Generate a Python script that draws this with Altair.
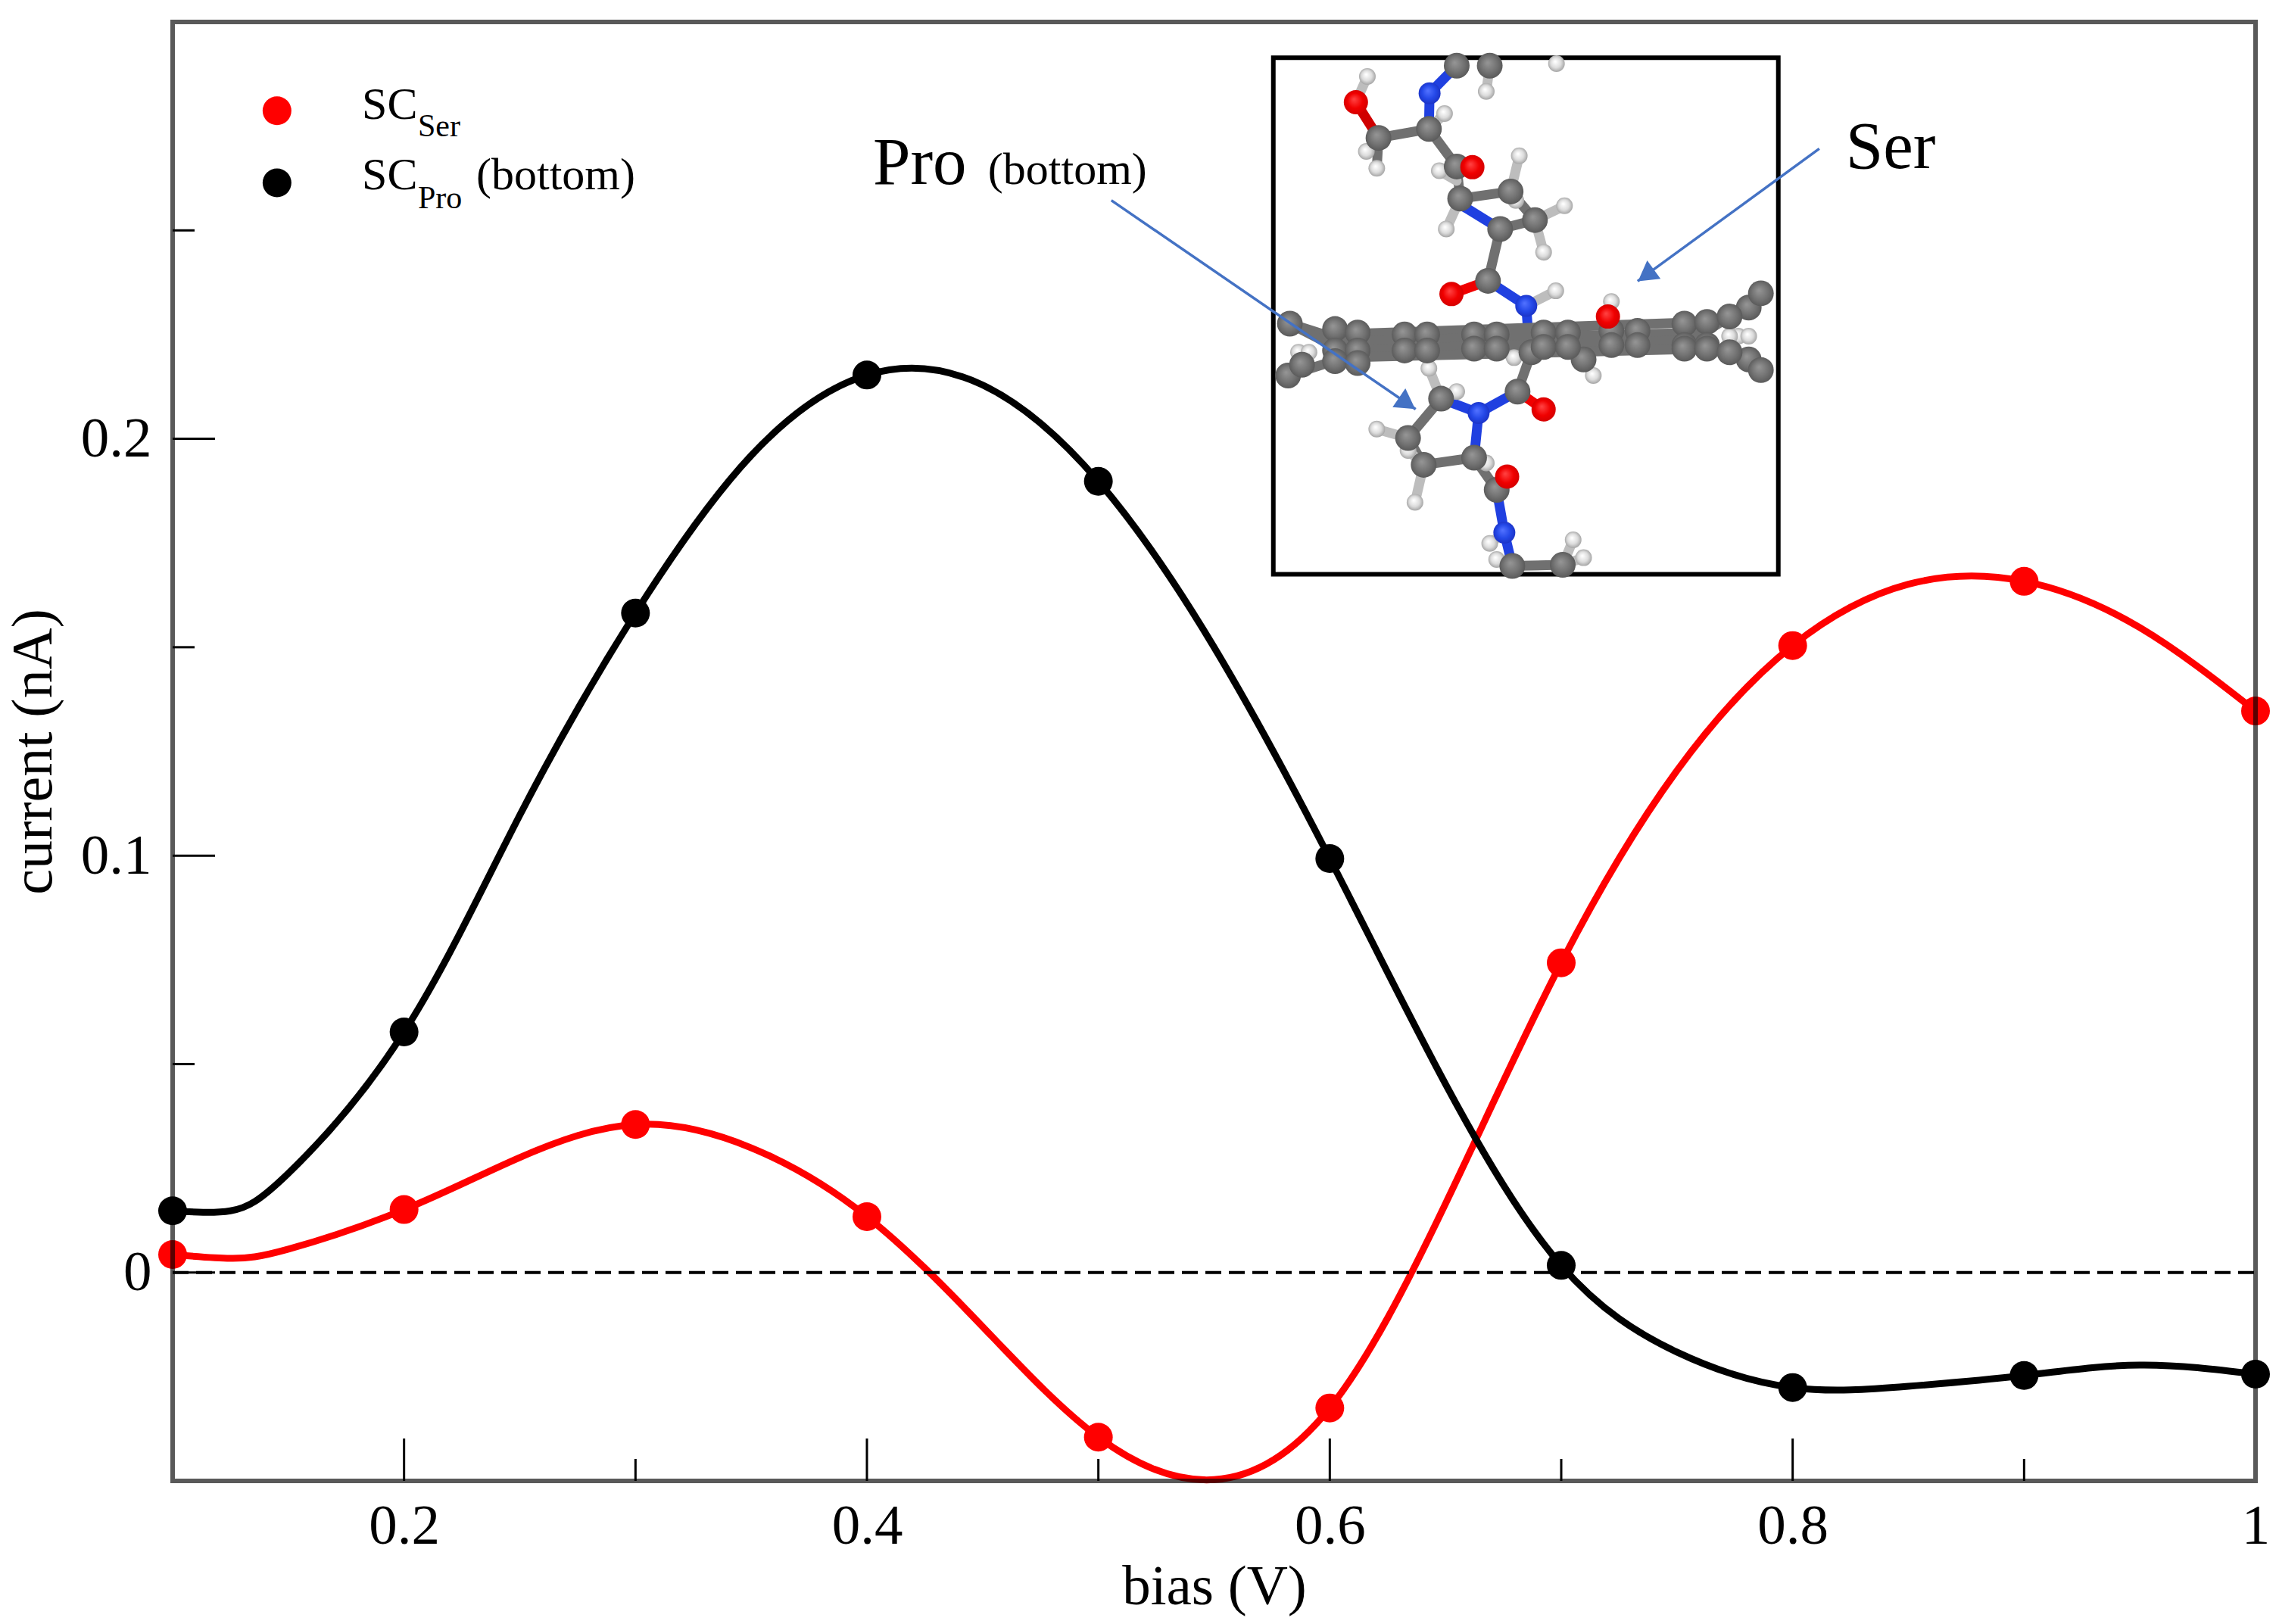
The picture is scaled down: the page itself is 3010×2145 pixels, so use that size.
import altair as alt
import pandas as pd

# ---------- main series ----------
bias = [0.1, 0.2, 0.3, 0.4, 0.5, 0.6, 0.7, 0.8, 0.9, 1.0]
sc_ser = [0.0043, 0.0151, 0.0355, 0.0134, -0.0395, -0.0325, 0.0743, 0.1504, 0.1658, 0.1347]
sc_pro = [0.0148, 0.0577, 0.1582, 0.2153, 0.1898, 0.0993, 0.0017, -0.0276, -0.0247, -0.0244]

# fitted curve
curve_x = [0.1, 0.125, 0.15, 0.2, 0.25, 0.3, 0.35, 0.4, 0.45, 0.5, 0.55, 0.6, 0.65, 0.7, 0.75, 0.8, 0.85, 0.9, 0.95, 1.0]
curve_ser = [0.0043, 0.0034, 0.0056, 0.0151, 0.0276, 0.0355, 0.0299, 0.0134, -0.0130, -0.0395, -0.0497, -0.0325,
             0.0165, 0.0743, 0.1204, 0.1504, 0.1651, 0.1658, 0.1547, 0.1347]
curve_pro = [0.0148, 0.0148, 0.0238, 0.0577, 0.1097, 0.1582, 0.1960, 0.2153, 0.2129, 0.1898, 0.1500, 0.0993,
             0.0452, 0.0017, -0.0191, -0.0276, -0.0273, -0.0247, -0.0222, -0.0244]

x_major = [0.2, 0.4, 0.6, 0.8]
x_minor = [0.3, 0.5, 0.7, 0.9]
y_major = [0.0, 0.1, 0.2]
y_minor = [0.05, 0.15, 0.25]
x_labels = [0.2, 0.4, 0.6, 0.8, 1.0]
y_labels = [0.0, 0.1, 0.2]

# ---------- inset picture, in inset units ----------
h_x = [318, 540, 315, 345, 525, 755, 745, 885, 825, 545, 860, 660, 862, 495, 345, 435, 455, 660, 670, 690, 910, 940, 575, 968, 1020,
       740, 120, 150, 1385, 1415, 1360]
h_y = [108, 212, 318, 365, 372, 330, 455, 470, 600, 535, 708, 150, 72, 925, 1095, 1155, 1300, 1190, 1415, 1460, 1405, 1455, 990, 945, 738,
       895, 880, 880, 835, 835, 835]
c_x = [350, 495, 575, 585, 730, 800, 700, 665, 790, 750, 530, 435, 480, 625, 690, 735, 880, 940, 575, 670,
       225, 290, 425, 490, 625, 690, 825, 895, 1020, 1095, 1230, 1295,
       225, 290, 425, 490, 625, 690, 825, 895, 1020, 1095, 1230, 1295,
       225, 290, 1230, 1295,
       95, 90, 130, 1415, 1450, 1415, 1450, 1360, 1360]
c_y = [280, 255, 360, 450, 430, 510, 535, 680, 880, 990, 1010, 1120, 1195, 1175, 1265, 1478, 1475, 900, 78, 78,
       815, 825, 830, 830, 830, 830, 825, 825, 820, 820, 800, 795,
       875, 875, 875, 875, 870, 870, 865, 865, 860, 860, 860, 860,
       905, 910, 870, 870,
       800, 945, 915, 755, 715, 900, 930, 780, 880]
n_x = [497, 775, 638, 712]
n_y = [155, 750, 1050, 1385]
o_x = [285, 620, 560, 825, 720, 1010]
o_y = [180, 362, 717, 1040, 1228, 780]

bond_x1 = [285, 350, 495, 497, 495, 575, 575, 585, 730, 800, 700, 600, 700, 665, 665, 775, 790, 750, 750, 638, 530, 435, 480, 625, 625, 690, 690, 712, 735, 1020,
           225, 225, 225, 225, 225, 225, 285, 1295, 1295, 1295, 1415, 1295, 1415, 940, 350, 350,
           318, 540, 525, 755, 745, 885, 825, 545, 860, 660, 495, 345, 435, 455, 660, 670, 690, 910, 940, 575, 1020]
bond_y1 = [180, 280, 255, 155, 255, 360, 360, 450, 430, 510, 535, 475, 535, 680, 680, 750, 880, 990, 990, 1050, 1010, 1120, 1195, 1175, 1175, 1265, 1265, 1385, 1478, 850,
           830, 850, 875, 895, 840, 865, 885, 805, 820, 860, 755, 860, 900, 900, 280, 280,
           108, 212, 372, 330, 455, 470, 600, 535, 708, 150, 925, 1095, 1155, 1300, 1190, 1415, 1460, 1405, 1455, 990, 738]
bond_x2 = [350, 495, 497, 575, 575, 620, 585, 730, 800, 700, 600, 585, 665, 560, 775, 780, 750, 825, 638, 530, 435, 480, 625, 638, 690, 720, 712, 735, 880, 1010,
           1295, 1295, 1295, 1295, 95, 95, 90, 1415, 1360, 1415, 1450, 1415, 1450, 968, 315, 345,
           285, 495, 575, 730, 730, 800, 800, 585, 775, 670, 530, 435, 480, 480, 625, 712, 735, 880, 880, 530, 1010]
bond_y2 = [280, 255, 155, 78, 360, 362, 450, 430, 510, 535, 475, 450, 680, 717, 750, 820, 990, 1040, 1050, 1010, 1120, 1195, 1175, 1050, 1265, 1228, 1385, 1478, 1475, 780,
           795, 825, 845, 870, 800, 800, 945, 755, 780, 900, 715, 900, 930, 945, 318, 365,
           180, 255, 400, 430, 430, 510, 510, 450, 750, 78, 1010, 1120, 1195, 1195, 1175, 1385, 1478, 1475, 1475, 1010, 780]
bond_c = ["#d00000", "#707070", "#2040e0", "#2040e0", "#707070", "#f00000", "#707070", "#707070", "#707070", "#707070", "#2040e0", "#2040e0", "#707070", "#f00000", "#2040e0", "#2040e0", "#707070", "#f00000", "#2040e0", "#2040e0", "#707070", "#707070", "#707070", "#2040e0", "#707070", "#f00000", "#2040e0", "#2040e0", "#707070", "#f00000"] \
    + ["#707070"] * 16 + ["#bdbdbd"] * 21

# ---------- annotations, in axis units ----------
frame = [{"a": 0.1, "a2": 1.0, "b": -0.05, "b2": 0.30}]
inset_box = [{"a": 0.5756, "a2": 0.7938, "b": 0.1675, "b2": 0.2914}]
legend_pts = [{"a": 0.1451, "b": 0.2787, "c": "#ff0000"}, {"a": 0.1451, "b": 0.2614, "c": "#000000"}]
txt60 = [{"a": 0.1818, "b": 0.2768, "t": "SC"}, {"a": 0.1818, "b": 0.2598, "t": "SC"},
         {"a": 0.2312, "b": 0.2598, "t": "(bottom)"}, {"a": 0.4523, "b": 0.2612, "t": "(bottom)"}]
txt42 = [{"a": 0.2060, "b": 0.2725, "t": "Ser"}, {"a": 0.2060, "b": 0.2554, "t": "Pro"}]
txt90 = [{"a": 0.4026, "b": 0.2612, "t": "Pro"}, {"a": 0.8229, "b": 0.2650, "t": "Ser"}]
arrows = [{"a": 0.5056, "b": 0.2572, "a2": 0.6371, "b2": 0.2071},
          {"a": 0.8115, "b": 0.2696, "a2": 0.7330, "b2": 0.2378}]
heads = [{"a": 0.6334, "b": 0.2085, "r": 124.5}, {"a": 0.7366, "b": 0.2392, "r": 233.9}]

W, H = 2751, 1927
FONT = "Liberation Serif"
xs = alt.Scale(domain=[0.1, 1.0], nice=False, zero=False)
ys = alt.Scale(domain=[-0.05, 0.30], nice=False, zero=False)
xi = alt.Scale(domain=[-3119, 2873], nice=False, zero=False)
yi = alt.Scale(domain=[4039, -44.5], nice=False, zero=False)


def X(f="a", axis=None):
    return alt.X(f"{f}:Q", scale=xs, axis=axis)


def Y(f="b", axis=None):
    return alt.Y(f"{f}:Q", scale=ys, axis=axis)


def X2(f="a2"):
    return alt.X2(f"{f}:Q")


def Y2(f="b2"):
    return alt.Y2(f"{f}:Q")


def XI(f="x"):
    return alt.X(f"{f}:Q", scale=xi, axis=None)


def YI(f="y"):
    return alt.Y(f"{f}:Q", scale=yi, axis=None)


series = pd.DataFrame({"a": bias, "ser": sc_ser, "pro": sc_pro})
curves = pd.DataFrame({"a": curve_x, "ser": curve_ser, "pro": curve_pro})

x_axis = alt.Axis(values=x_labels, format=".1~f", grid=False, domain=False, ticks=False, tickSize=0,
                  labelFont=FONT, labelFontSize=75, labelColor="black", labelPadding=23, labelFlush=False,
                  labelOverlap=False, title="bias (V)", titleFont=FONT, titleFontSize=75, titleFontWeight="normal",
                  titleColor="black", titleX=1375.5, titleY=162, titleBaseline="alphabetic", titleAnchor="middle")
y_axis = alt.Axis(values=y_labels, format=".1~f", grid=False, domain=False, ticks=False, tickSize=0,
                  labelFont=FONT, labelFontSize=75, labelColor="black", labelPadding=28, labelFlush=False,
                  labelOverlap=False, title="current (nA)", titleFont=FONT, titleFontSize=76, titleFontWeight="normal",
                  titleColor="black", titleX=-161, titleY=963.5, titleBaseline="alphabetic", titleAnchor="middle")

axes = alt.Chart(series).mark_point(opacity=0).encode(x=X("a", x_axis), y=Y("ser", y_axis))


def vtick(vals, length):
    return alt.Chart(pd.DataFrame({"a": vals})).mark_rule(color="black", strokeWidth=3).encode(
        x=X(), y=alt.value(H), y2=alt.value(H - length))


def htick(vals, length):
    return alt.Chart(pd.DataFrame({"b": vals})).mark_rule(color="black", strokeWidth=3).encode(
        y=Y(), x=alt.value(0), x2=alt.value(length))


ticks = alt.layer(vtick(x_major, 56), vtick(x_minor, 29), htick(y_major, 56), htick(y_minor, 29))

line_ser = alt.Chart(curves).mark_line(color="#ff0000", strokeWidth=9, interpolate="natural").encode(x=X(), y=Y("ser"))
line_pro = alt.Chart(curves).mark_line(color="#000000", strokeWidth=9, interpolate="natural").encode(x=X(), y=Y("pro"))
zero = alt.Chart(pd.DataFrame({"a": [0.1], "a2": [1.0], "b": [0.0]})).mark_rule(
    color="black", strokeWidth=4, strokeDash=[21, 10]).encode(x=X(), x2=X2(), y=Y())
dots_ser = alt.Chart(series).mark_circle(color="#ff0000", opacity=1, size=1444).encode(x=X(), y=Y("ser"))
dots_pro = alt.Chart(series).mark_circle(color="#000000", opacity=1, size=1444).encode(x=X(), y=Y("pro"))

box = alt.Chart(pd.DataFrame(inset_box)).mark_rect(fill="white", stroke="black", strokeWidth=6).encode(
    x=X(), x2=X2(), y=Y(), y2=Y2())

under = alt.layer(ticks, line_ser, zero, line_pro, dots_ser, dots_pro, box)


# ---------- molecule ----------
def atoms(xv, yv, d, edge, mid, light):
    grad = alt.RadialGradient(gradient="radial", x1=0.42, y1=0.38, r1=0.02, x2=0.5, y2=0.5, r2=0.55,
                              stops=[alt.GradientStop(color=light, offset=0),
                                     alt.GradientStop(color=mid, offset=0.55),
                                     alt.GradientStop(color=edge, offset=1)])
    return alt.Chart(pd.DataFrame({"x": xv, "y": yv})).mark_point(
        filled=True, shape="circle", size=d * d, fill=grad, opacity=1, strokeWidth=0).encode(x=XI(), y=YI())


bonds = alt.Chart(pd.DataFrame({"x": bond_x1, "y": bond_y1, "x2": bond_x2, "y2": bond_y2, "c": bond_c})).mark_rule(
    strokeWidth=13, strokeCap="round").encode(
    x=XI(), y=YI(), x2=alt.X2("x2:Q"), y2=alt.Y2("y2:Q"), color=alt.Color("c:N", scale=None))
molecule = alt.layer(
    bonds,
    atoms(h_x, h_y, 22, "#9a9a9a", "#dcdcdc", "#ffffff"),
    atoms(c_x, c_y, 34, "#555555", "#737373", "#949494"),
    atoms(n_x, n_y, 29, "#1a30c0", "#2448e8", "#5070ff"),
    atoms(o_x, o_y, 32, "#d00000", "#f00000", "#ff4040"),
)

# ---------- overlays ----------
arrow_lines = alt.Chart(pd.DataFrame(arrows)).mark_rule(color="#4472C4", strokeWidth=3.5).encode(
    x=X(), y=Y(), x2=X2(), y2=Y2())
arrow_heads = alt.Chart(pd.DataFrame(heads)).mark_point(
    shape="triangle-up", filled=True, color="#4472C4", opacity=1, size=900).encode(
    x=X(), y=Y(), angle=alt.Angle("r:Q", scale=None))
leg_dots = alt.Chart(pd.DataFrame(legend_pts)).mark_circle(opacity=1, size=1444).encode(
    x=X(), y=Y(), color=alt.Color("c:N", scale=None))


def texts(rows, size):
    return alt.Chart(pd.DataFrame(rows)).mark_text(
        font=FONT, fontSize=size, align="left", baseline="alphabetic", color="black").encode(
        x=X(), y=Y(), text="t:N")


frame_mark = alt.Chart(pd.DataFrame(frame)).mark_rect(
    fillOpacity=0, stroke="black", strokeOpacity=0.65, strokeWidth=6).encode(x=X(), x2=X2(), y=Y(), y2=Y2())

over = alt.layer(arrow_lines, arrow_heads, leg_dots, texts(txt60, 60), texts(txt42, 42), texts(txt90, 89), frame_mark)

chart = alt.layer(axes, under, molecule, over).resolve_scale(x="independent", y="independent").properties(
    width=W, height=H,
    padding={"left": 220, "top": 21, "right": 23, "bottom": 180},
    autosize=alt.AutoSizeParams(type="none"),
    background="white",
).configure_view(stroke=None)

chart.save("out.html", embed_options={"renderer": "svg", "actions": False})
